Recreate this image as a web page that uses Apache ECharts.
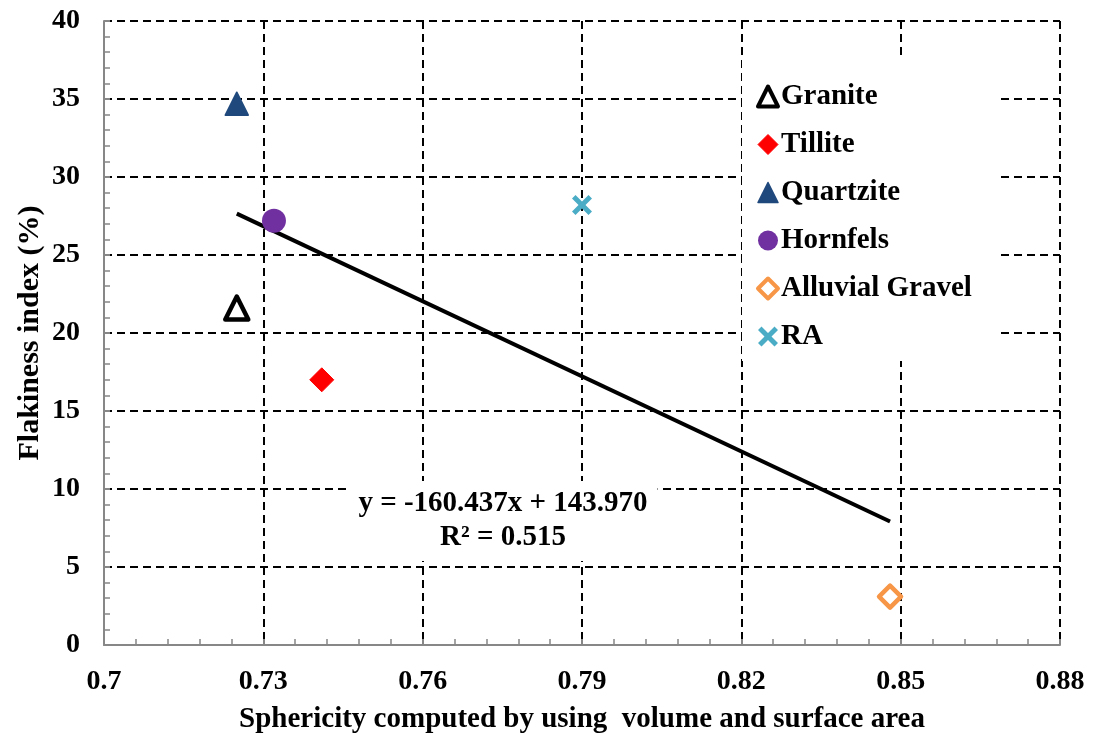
<!DOCTYPE html>
<html>
<head>
<meta charset="utf-8">
<script src="https://cdn.jsdelivr.net/npm/echarts@6/dist/echarts.min.js"></script>
<style>
html,body{margin:0;padding:0;background:#fff;}
#chart{width:1094px;height:740px;}
</style>
</head>
<body>
<div id="chart"></div>
<script>
// ---- data ----
const seriesNames = ['Granite', 'Tillite', 'Quartzite', 'Hornfels', 'Alluvial Gravel', 'RA'];
const sphericity = [0.725, 0.741, 0.725, 0.732, 0.848, 0.790];
const flakiness = [21.6, 17.0, 34.7, 27.2, 3.1, 28.2];
const trendSlope = -160.437;
const trendIntercept = 143.970;
const trendR2 = 0.515;
const xTicks = [0.7, 0.73, 0.76, 0.79, 0.82, 0.85, 0.88];
const yTicks = [0, 5, 10, 15, 20, 25, 30, 35, 40];

const FONT = '"Liberation Serif", "Times New Roman", serif';
const AXIS_GRAY = '#878787';

const styles = [
  { symbol: 'triangle', size: 23, itemStyle: { color: '#ffffff', borderColor: '#000000', borderWidth: 4.5, borderJoin: 'round', opacity: 1 } },
  { symbol: 'diamond', size: 24, itemStyle: { color: '#ff0000', borderColor: '#ff0000', borderWidth: 1, borderJoin: 'round', opacity: 1 } },
  { symbol: 'triangle', size: 23, itemStyle: { color: '#1f497d', borderColor: '#1f497d', borderWidth: 1.5, borderJoin: 'round', opacity: 1 } },
  { symbol: 'circle', size: 24, itemStyle: { color: '#7030a0', opacity: 1 } },
  { symbol: 'diamond', size: 22, itemStyle: { color: '#ffffff', borderColor: '#f79646', borderWidth: 4.5, borderJoin: 'round', opacity: 1 } },
  { symbol: 'path://M0,3.5 L3.5,0 L10,6.5 L16.5,0 L20,3.5 L13.5,10 L20,16.5 L16.5,20 L10,13.5 L3.5,20 L0,16.5 L6.5,10 Z', size: 20, itemStyle: { color: '#4bacc6', opacity: 1 } }
];

const scatterSeries = seriesNames.map((name, i) => ({
  name: name,
  type: 'scatter',
  symbol: styles[i].symbol,
  symbolSize: styles[i].size,
  itemStyle: styles[i].itemStyle,
  z: 5,
  data: [[sphericity[i], flakiness[i]]]
}));

const legendData = seriesNames.map((name, i) => ({
  name: name,
  icon: styles[i].symbol,
  itemStyle: Object.assign({}, styles[i].itemStyle, styles[i].itemStyle.borderWidth ? { borderWidth: Math.min(styles[i].itemStyle.borderWidth, 4) } : {})
}));

const xMin = Math.min.apply(null, sphericity);
const xMax = Math.max.apply(null, sphericity);
const trendData = [
  [xMin, trendSlope * xMin + trendIntercept],
  [xMax, trendSlope * xMax + trendIntercept]
];

const chart = echarts.init(document.getElementById('chart'));
chart.setOption({
  animation: false,
  backgroundColor: '#ffffff',
  textStyle: { fontFamily: FONT },
  grid: { left: 104, right: 34, top: 21, bottom: 95, containLabel: false },
  xAxis: {
    type: 'value',
    min: xTicks[0],
    max: xTicks[xTicks.length - 1],
    interval: 0.03,
    name: 'Sphericity computed by using  volume and surface area',
    nameLocation: 'middle',
    nameGap: 60,
    nameTextStyle: { fontFamily: FONT, fontWeight: 'bold', fontSize: 29, color: '#000' },
    axisLine: { show: true, onZero: false, lineStyle: { color: AXIS_GRAY, width: 2 } },
    axisTick: { show: true, inside: true, length: 6, lineStyle: { color: AXIS_GRAY, width: 2 } },
    minorTick: { show: true, splitNumber: 5, length: 6, lineStyle: { color: AXIS_GRAY, width: 1.5 } },
    axisLabel: {
      margin: 23,
      fontFamily: FONT, fontWeight: 'bold', fontSize: 28, color: '#000',
      formatter: v => String(parseFloat(v.toFixed(2)))
    },
    splitLine: { show: true, lineStyle: { color: '#000', width: 2, type: [8, 5] } }
  },
  yAxis: {
    type: 'value',
    min: yTicks[0],
    max: yTicks[yTicks.length - 1],
    interval: 5,
    name: 'Flakiness index (%)',
    nameLocation: 'middle',
    nameGap: 59,
    nameMoveOverlap: false,
    nameTextStyle: { fontFamily: FONT, fontWeight: 'bold', fontSize: 30, color: '#000' },
    axisLine: { show: true, onZero: false, lineStyle: { color: AXIS_GRAY, width: 2 } },
    axisTick: { show: true, inside: true, length: 6, lineStyle: { color: AXIS_GRAY, width: 2 } },
    minorTick: { show: true, splitNumber: 5, length: 6, lineStyle: { color: AXIS_GRAY, width: 1.5 } },
    axisLabel: { margin: 24, fontFamily: FONT, fontWeight: 'bold', fontSize: 28, color: '#000' },
    splitLine: { show: true, lineStyle: { color: '#000', width: 2, type: [8, 5] } }
  },
  legend: {
    orient: 'vertical',
    left: 742,
    top: 60,
    data: legendData,
    backgroundColor: '#ffffff',
    padding: [22, 25, 10, 14],
    itemWidth: 20,
    itemHeight: 20,
    itemGap: 19,
    textStyle: { fontFamily: FONT, fontWeight: 'bold', fontSize: 29, color: '#000', lineHeight: 28, padding: [0, 0, 0, -2] }
  },
  graphic: [{
    type: 'text',
    x: 503,
    y: 521,
    z: 10,
    style: {
      text: 'y = ' + trendSlope.toFixed(3) + 'x + ' + trendIntercept.toFixed(3) + '\nR² = ' + trendR2.toFixed(3),
      font: 'bold 29px ' + FONT,
      fill: '#000',
      align: 'center',
      verticalAlign: 'middle',
      lineHeight: 34,
      backgroundColor: '#ffffff',
      padding: [6, 10, 6, 10]
    }
  }],
  series: scatterSeries.concat([{
    name: 'trend',
    type: 'line',
    data: trendData,
    showSymbol: false,
    symbol: 'none',
    lineStyle: { color: '#000', width: 4 },
    z: 4,
    silent: true
  }])
});
</script>
</body>
</html>
